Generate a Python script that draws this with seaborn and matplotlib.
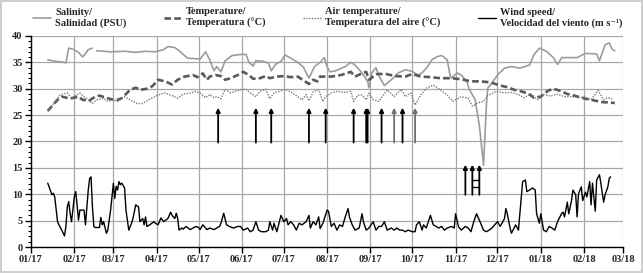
import pandas as pd
import matplotlib.pyplot as plt
import matplotlib.dates as mdates
from matplotlib.ticker import MultipleLocator
import seaborn as sns

sns.set_style('white')
plt.rcParams['font.family'] = ['Liberation Serif', 'DejaVu Serif']
plt.rcParams['font.weight'] = 'bold'
plt.rcParams['font.size'] = 7.5

start = pd.Timestamp('2017-01-01')
end = pd.Timestamp('2018-03-01')

# dias desde 01/01/2017
sal_day = [12, 17, 22, 25, 27, 30, 34, 37, 41, 44,
           47, 57, 67, 75, 82, 89, 95, 98, 103, 107, 112, 118, 121, 125, 128,
           131, 133, 136, 139, 144, 150, 154, 156, 159, 161, 166, 170, 172, 175,
           179, 182, 186, 191, 195, 199, 203, 207, 210, 212, 214, 218, 225, 229,
           232, 235, 237, 241, 242, 244, 247, 249, 253, 258, 263, 268, 273, 277,
           280, 284, 287, 291, 294, 298, 300, 301, 305, 308, 312, 314, 318, 321,
           324, 326, 327, 330, 334, 339, 344, 350, 357, 360, 364, 369, 374, 377,
           380, 385, 391, 397, 405, 407, 411, 414, 416, 418]
sal_val = [35.5, 35.2, 35.1, 34.9, 37.7, 37.5, 36.9, 36.0, 37.4, 37.7,
           37.2, 37.0, 37.1, 36.9, 37.1, 37.0, 37.4, 38.0, 37.8, 37.0, 35.8, 35.7, 35.6, 37.0, 35.5,
           33.4, 34.2, 33.2, 35.3, 36.3, 36.5, 36.5, 35.0, 34.3, 35.3, 35.2, 34.9, 33.4, 34.6,
           35.2, 36.4, 35.8, 35.0, 34.1, 32.0, 34.2, 35.0, 35.9, 34.2, 33.2, 33.4, 34.2, 35.0,
           34.5, 33.6, 33.0, 31.4, 30.2, 33.0, 34.0, 32.5, 30.6, 31.7, 33.0, 33.6, 33.3, 32.6,
           33.0, 34.2, 35.5, 36.1, 36.3, 35.5, 32.6, 32.0, 33.0, 32.6, 31.4, 29.8, 27.9, 23.1,
           15.5, 26.6, 30.1, 31.1, 32.6, 33.9, 34.2, 33.9, 34.5, 36.4, 37.7, 37.1, 35.9, 34.6,
           35.9, 35.9, 35.9, 36.7, 36.6, 35.3, 38.3, 38.7, 37.5, 37.2]
sal_seg = [0] * 10 + [1] * (len(sal_day) - 10)

temp_day = [12, 15, 19, 22, 27, 29, 34, 37, 42, 46, 49, 55, 59, 62, 65, 71, 75, 78,
            83, 87, 91, 96, 101, 105, 110, 116, 119, 123, 126, 128, 132, 136, 139, 143,
            148, 152, 156, 159, 163, 168, 171, 176, 181, 186, 191, 195, 199, 202, 205,
            207, 215, 222, 229, 232, 236, 240, 242, 245, 248, 254, 261, 268, 273, 279,
            286, 293, 301, 308, 315, 322, 329, 336, 341, 346, 351, 356, 360, 365, 370,
            374, 379, 384, 389, 394, 399, 403, 408, 413, 418]
temp_val = [25.8, 26.7, 27.9, 28.5, 28.2, 28.2, 28.5, 27.9, 27.8, 28.5, 28.7, 28.2, 27.9, 27.9,
            28.2, 29.8, 30.2, 29.8, 30.0, 30.5, 31.7, 31.4, 30.8, 31.7, 32.3, 32.6, 32.2, 32.9,
            31.7, 32.3, 32.6, 32.4, 31.7, 32.0, 32.6, 33.2, 32.6, 31.9, 31.9, 32.4, 32.0, 32.3,
            32.4, 32.2, 32.3, 31.6, 30.9, 31.7, 31.4, 32.3, 32.3, 32.6, 33.2, 32.3, 32.8, 33.2,
            31.7, 32.3, 32.8, 32.8, 32.4, 32.3, 32.8, 32.3, 32.2, 32.0, 32.0, 31.8, 31.4, 31.4,
            31.2, 30.6, 30.3, 29.8, 29.5, 29.1, 28.3, 28.5, 29.6, 30.0, 29.6, 29.0, 28.7, 28.3,
            28.0, 27.8, 27.5, 27.4, 27.3]

air_day = [12, 17, 21, 26, 29, 32, 35, 39, 44, 47, 52, 55, 58, 62, 67, 71, 76, 80, 85,
           91, 96, 101, 105, 109, 114, 118, 121, 125, 128, 131, 133, 136, 139, 143, 146,
           150, 154, 157, 161, 164, 168, 171, 174, 179, 182, 186, 191, 194, 197, 199, 202,
           206, 209, 211, 215, 219, 224, 229, 231, 234, 237, 240, 242, 245, 249, 255, 260,
           265, 268, 272, 275, 279, 283, 288, 293, 298, 302, 308, 313, 316, 320, 324, 327,
           333, 339, 344, 349, 353, 358, 363, 367, 372, 377, 382, 387, 392, 396, 401, 406,
           410, 413, 417]
air_val = [25.7, 27.5, 28.9, 29.2, 28.2, 28.7, 29.2, 28.3, 27.2, 27.9, 28.2, 27.6, 27.9, 27.6,
           28.5, 27.9, 27.2, 27.2, 28.0, 28.8, 29.2, 28.7, 28.2, 29.0, 29.2, 29.5, 29.2, 28.3,
           28.9, 28.3, 28.5, 28.1, 29.9, 29.2, 29.5, 29.8, 29.9, 29.2, 28.5, 29.5, 29.9, 28.1,
           29.2, 29.6, 29.9, 29.4, 28.5, 27.9, 28.9, 27.7, 29.4, 29.8, 27.6, 28.5, 29.2, 29.5,
           29.3, 29.5, 27.6, 28.8, 28.8, 27.9, 29.2, 27.9, 27.6, 29.8, 28.5, 29.9, 28.5, 29.2,
           26.9, 28.8, 30.1, 30.7, 29.8, 28.8, 27.6, 28.5, 28.2, 26.7, 27.3, 27.6, 28.7, 29.5,
           29.2, 29.3, 28.9, 28.3, 29.0, 27.9, 28.9, 28.6, 29.0, 28.5, 28.5, 28.3, 28.5, 27.9,
           29.7, 27.9, 28.3, 28.0]

wind_day = [12, 15, 16, 17, 19, 20, 22, 24, 25, 26, 27, 28, 29, 31, 32, 33, 34, 35, 38, 39,
            41, 42, 43, 44, 45, 46, 49, 50, 51, 52, 54, 55, 57, 58, 59, 60, 61, 62, 63, 64,
            65, 67, 68, 70, 72, 73, 75, 77, 78, 80, 81, 82, 83, 85, 88, 89, 91, 93, 95, 98,
            100, 101, 103, 104, 105, 106, 108, 109, 111, 114, 118, 120, 121, 123, 126, 128,
            131, 133, 135, 136, 138, 140, 142, 145, 148, 150, 152, 155, 157, 159, 161, 163,
            165, 168, 170, 171, 173, 174, 176, 179, 180, 181, 183, 184, 186, 188, 190, 192,
            194, 197, 199, 200, 202, 204, 206, 207, 209, 212, 213, 215, 217, 219, 221, 223,
            225, 227, 228, 230, 232, 235, 237, 238, 240, 242, 245, 247, 249, 251, 253, 255,
            258, 260, 262, 264, 266, 268, 270, 273, 275, 276, 278, 280, 281, 283, 286, 288,
            290, 292, 294, 296, 298, 301, 303, 304, 306, 308, 311, 313, 315, 317, 319, 321,
            324, 326, 328, 330, 332, 334, 336, 339, 340, 341, 343, 344, 347, 349, 351, 352,
            354, 355, 357, 359, 361, 362, 364, 365, 367, 369, 371, 373, 375, 377, 380, 381,
            382, 384, 385, 387, 388, 390, 391, 392, 394, 395, 397, 398, 400, 401, 402, 404,
            405, 407, 408, 410, 411, 413, 414, 415]
wind_val = [12.1, 9.9, 10.2, 9.5, 4.8, 4.2, 3.2, 2.1, 3.9, 7.6, 8.6, 6.4, 4.8, 9.5, 10.5, 8.0,
            5.1, 7.0, 7.0, 4.2, 10.8, 13.0, 13.3, 7.6, 3.9, 3.7, 3.7, 5.6, 4.2, 4.8, 2.6, 3.2,
            7.0, 9.5, 12.1, 9.2, 11.5, 10.8, 12.4, 11.8, 12.1, 11.2, 7.0, 3.2, 4.5, 5.4, 8.0,
            7.6, 4.8, 5.4, 4.2, 5.7, 3.9, 4.2, 4.8, 4.5, 4.2, 5.5, 4.8, 5.4, 6.6, 6.0, 5.4, 6.4,
            5.4, 3.2, 3.6, 3.4, 3.9, 3.3, 3.9, 3.7, 3.3, 4.2, 3.3, 3.6, 3.3, 3.6, 3.9, 4.5, 6.4,
            4.2, 3.9, 3.6, 3.9, 3.9, 3.2, 3.6, 2.9, 3.2, 4.8, 3.2, 2.9, 2.9, 3.2, 4.8, 3.2, 4.5,
            2.9, 6.0, 5.4, 4.8, 5.4, 4.2, 4.8, 4.2, 3.2, 4.5, 4.2, 4.8, 6.0, 3.6, 4.8, 4.2, 5.7,
            3.5, 4.5, 7.0, 6.8, 3.9, 4.5, 3.2, 4.2, 3.9, 5.7, 7.3, 5.7, 4.2, 3.2, 3.6, 6.3, 4.8,
            3.2, 3.6, 4.8, 3.2, 3.9, 3.9, 4.8, 3.2, 3.6, 3.2, 3.6, 3.2, 3.2, 2.9, 3.2, 2.9, 2.9,
            4.2, 4.8, 3.2, 4.2, 3.6, 6.0, 4.2, 3.9, 3.6, 3.9, 3.2, 3.6, 3.9, 3.6, 6.3, 3.9, 3.2,
            3.9, 3.6, 2.9, 4.8, 6.3, 5.1, 3.2, 2.9, 3.2, 3.6, 4.2, 4.8, 3.9, 5.4, 7.3, 6.3, 3.6,
            2.6, 4.2, 3.2, 9.5, 12.4, 12.7, 10.5, 10.8, 11.2, 10.8, 6.3, 4.5, 6.3, 3.2, 2.9, 3.9,
            3.6, 3.2, 4.8, 6.4, 6.6, 5.7, 8.5, 6.3, 8.8, 10.8, 9.9, 5.7, 10.1, 11.4, 8.8, 10.4,
            9.5, 12.4, 8.0, 12.1, 6.8, 12.7, 13.7, 12.1, 8.5, 9.9, 11.4, 13.0, 13.3]

# flechas (dias) y su color
arrow_day = [134, 161, 172, 199, 211, 231, 240, 241, 251, 260, 266, 275]
arrow_col = ['black'] * 9 + ['#707070', 'black', '#707070']
arrow_low_day = [311, 316, 321]


def fechas(days):
    return start + pd.to_timedelta(days, unit='D')


sal = pd.DataFrame({'fecha': fechas(sal_day), 'valor': sal_val, 'seg': sal_seg})
temp = pd.DataFrame({'fecha': fechas(temp_day), 'valor': temp_val})
air = pd.DataFrame({'fecha': fechas(air_day), 'valor': air_val})
wind = pd.DataFrame({'fecha': fechas(wind_day), 'valor': wind_val})

fig = plt.figure(figsize=(6.43, 2.73), dpi=100)
fig.patch.set_edgecolor('#cfcfcf')
fig.patch.set_linewidth(1.5)
ax = fig.add_axes([0.0482, 0.0952, 0.921, 0.773])

sns.lineplot(data=sal, x='fecha', y='valor', units='seg', estimator=None, sort=False,
             color='#9c9c9c', lw=1.2, ax=ax)
sns.lineplot(data=temp, x='fecha', y='valor', estimator=None, sort=False,
             color='#5a5a5a', lw=1.9, ls=(0, (2.5, 1.2)), ax=ax)
sns.lineplot(data=air, x='fecha', y='valor', estimator=None, sort=False,
             color='#7a7a7a', lw=1.0, ls=(0, (1, 1)), ax=ax)
sns.lineplot(data=wind, x='fecha', y='valor', estimator=None, sort=False,
             color='black', lw=1.0, ax=ax)

for d, c in zip(arrow_day, arrow_col):
    x = mdates.date2num(fechas([d])[0])
    ax.annotate('', xy=(x, 26.4), xytext=(x, 19.8),
                arrowprops=dict(arrowstyle='-|>', color=c, lw=1.3, mutation_scale=6,
                                shrinkA=0, shrinkB=0))
for d in arrow_low_day:
    x = mdates.date2num(fechas([d])[0])
    ax.annotate('', xy=(x, 15.6), xytext=(x, 9.9),
                arrowprops=dict(arrowstyle='-|>', color='black', lw=1.3, mutation_scale=6,
                                shrinkA=0, shrinkB=0))
x1 = mdates.date2num(fechas([arrow_low_day[1]])[0])
x2 = mdates.date2num(fechas([arrow_low_day[2]])[0])
ax.hlines([12.7, 11.4], x1, x2, color='black', lw=1)

ax.set_xlim(start, end)
ax.set_ylim(0, 40)
ax.xaxis.set_major_locator(mdates.MonthLocator())
ax.xaxis.set_major_formatter(mdates.DateFormatter('%m/%y'))
ax.yaxis.set_major_locator(MultipleLocator(5))
ax.yaxis.set_minor_locator(MultipleLocator(1))
ax.grid(True, which='major', color='#a8a8a8', lw=0.9)
ax.set_axisbelow(True)
for s in ['top', 'right']:
    ax.spines[s].set_visible(False)
for s in ['left', 'bottom']:
    ax.spines[s].set_color('black')
    ax.spines[s].set_linewidth(1)
ax.tick_params(axis='both', which='major', direction='out', length=4, width=1,
               color='black', labelsize=7.5, pad=2)
ax.tick_params(axis='y', which='minor', direction='out', length=2.5, width=0.8,
               color='black', left=True)
ax.tick_params(axis='x', bottom=True)
ax.tick_params(axis='y', left=True)
for lab in ax.get_xticklabels() + ax.get_yticklabels():
    lab.set_fontweight('bold')
ax.set_xlabel('')
ax.set_ylabel('')

handles = [plt.Line2D([], [], color='#9c9c9c', lw=1.2),
           plt.Line2D([], [], color='#5a5a5a', lw=1.9, ls=(0, (2.5, 1.2))),
           plt.Line2D([], [], color='#7a7a7a', lw=1.0, ls=(0, (1, 1))),
           plt.Line2D([], [], color='black', lw=1.0)]
labels = ['Salinity/\nSalinidad (PSU)',
          'Temperature/\nTemperatura (°C)',
          'Air temperature/\nTemperatura del aire (°C)',
          'Wind speed/\nVelocidad del viento (m s⁻¹)']
fig.legend(handles, labels, loc='center left', bbox_to_anchor=(0.052, 0.935), ncol=4,
           frameon=False, borderpad=0, borderaxespad=0, handlelength=1.7,
           handletextpad=0.4, columnspacing=3.6,
           prop={'weight': 'bold', 'size': 7.5})

fig.savefig('out.png', dpi=100, edgecolor=fig.get_edgecolor())
